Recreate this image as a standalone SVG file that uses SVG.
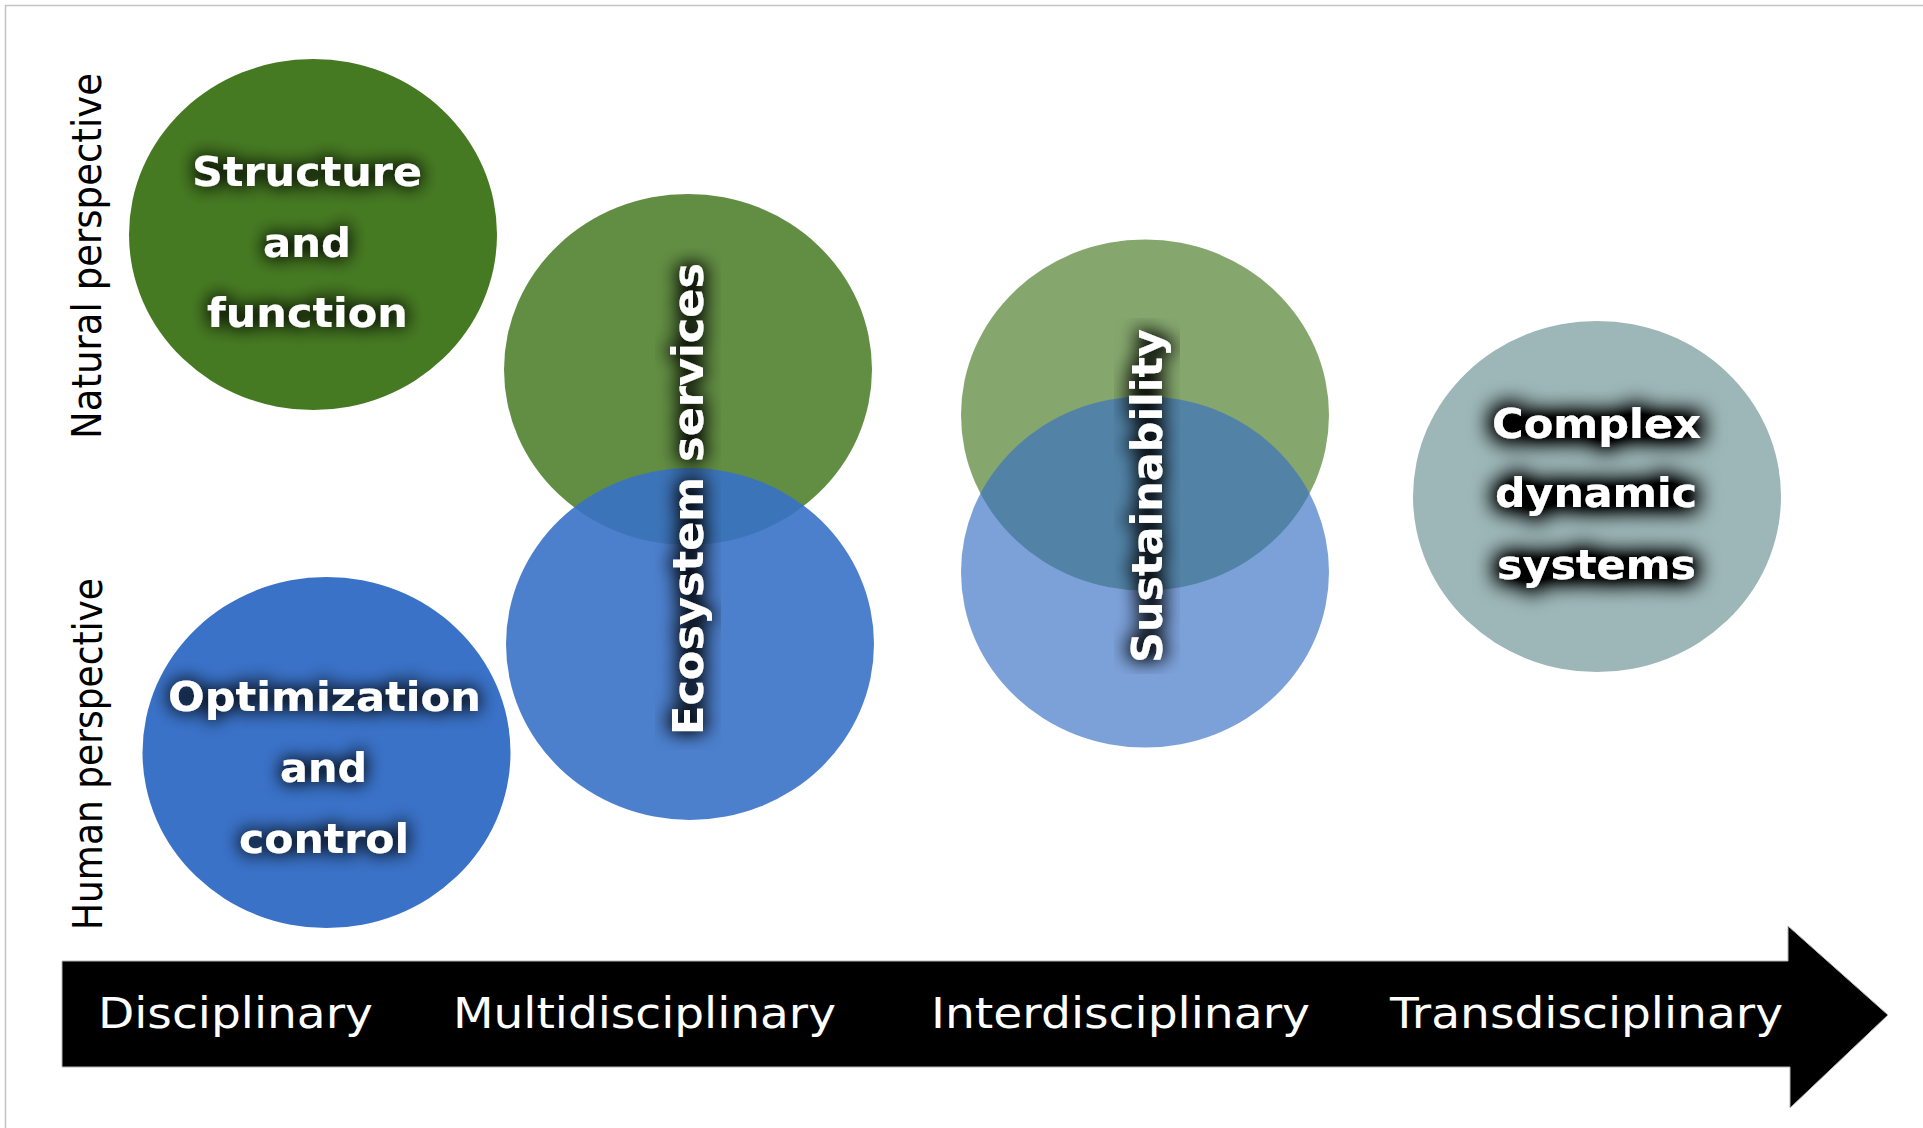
<svg xmlns="http://www.w3.org/2000/svg" width="1923" height="1128" viewBox="0 0 1923 1128">
<style>
  .lbl { font-family: "DejaVu Sans", "Liberation Sans", sans-serif; fill: #ffffff; font-weight: bold; font-size: 40px; text-anchor: middle; }
  .axis-lbl { font-family: "DejaVu Sans", "Liberation Sans", sans-serif; fill: #ffffff; font-size: 42px; }
  .side { font-family: "DejaVu Sans", "Liberation Sans", sans-serif; fill: #000000; font-size: 37px; text-anchor: middle; }
  .green { fill: #467a22; }
  .blue { fill: #3871c6; }
</style>
<defs>
  <filter id="glow" x="-15%" y="-45%" width="130%" height="190%">
    <feMorphology in="SourceAlpha" operator="dilate" radius="1" result="d"/>
    <feGaussianBlur in="d" stdDeviation="9" result="b"/>
    <feComponentTransfer in="b" result="s"><feFuncA type="linear" slope="1.1"/></feComponentTransfer>
    <feMerge><feMergeNode in="s"/><feMergeNode in="SourceGraphic"/></feMerge>
  </filter>
  <filter id="glowDark" x="-15%" y="-45%" width="130%" height="190%">
    <feMorphology in="SourceAlpha" operator="dilate" radius="3" result="d"/>
    <feGaussianBlur in="d" stdDeviation="11" result="b"/>
    <feComponentTransfer in="b" result="s"><feFuncA type="linear" slope="1.6"/></feComponentTransfer>
    <feMerge><feMergeNode in="s"/><feMergeNode in="SourceGraphic"/></feMerge>
  </filter>
  <filter id="glowV" x="-0.03" y="-0.15" width="1.06" height="1.3">
    <feMorphology in="SourceAlpha" operator="dilate" radius="2" result="d"/>
    <feGaussianBlur in="d" stdDeviation="9" result="b"/>
    <feComponentTransfer in="b" result="s"><feFuncA type="linear" slope="1.1"/></feComponentTransfer>
    <feMerge><feMergeNode in="s"/><feMergeNode in="SourceGraphic"/></feMerge>
  </filter>
</defs>
<rect x="0" y="0" width="1923" height="1128" fill="#ffffff"/>
<path d="M5.5,1128 V5.5 H1923" fill="none" stroke="#c4c4c4" stroke-width="1.5"/>

<g id="side-labels">
  <text class="side" transform="translate(101,256) scale(1.08,1) rotate(-90)" textLength="366" lengthAdjust="spacingAndGlyphs">Natural perspective</text>
  <text class="side" transform="translate(102,754) scale(1.08,1) rotate(-90)" textLength="352" lengthAdjust="spacingAndGlyphs">Human perspective</text>
</g>

<g id="structure-function">
  <ellipse class="green" cx="313" cy="234.5" rx="184" ry="175.5"/>
  <g filter="url(#glow)">
    <text class="lbl" x="307" y="186" textLength="230" lengthAdjust="spacingAndGlyphs">Structure</text>
    <text class="lbl" x="307" y="257" textLength="88" lengthAdjust="spacingAndGlyphs">and</text>
    <text class="lbl" x="307.5" y="327" textLength="201" lengthAdjust="spacingAndGlyphs">function</text>
  </g>
</g>

<g id="optimization-control">
  <ellipse cx="326.5" cy="752.5" rx="184" ry="175.5" fill="#3a72c8"/>
  <g filter="url(#glow)">
    <text class="lbl" x="324.5" y="711" textLength="313" lengthAdjust="spacingAndGlyphs">Optimization</text>
    <text class="lbl" x="323.5" y="782" textLength="87" lengthAdjust="spacingAndGlyphs">and</text>
    <text class="lbl" x="324" y="853" textLength="170" lengthAdjust="spacingAndGlyphs">control</text>
  </g>
</g>

<g id="ecosystem-services">
  <ellipse class="green" cx="688" cy="369.5" rx="184" ry="175.5" fill-opacity="0.85"/>
  <ellipse class="blue" cx="690" cy="644" rx="184" ry="176" fill-opacity="0.9"/>
  <text class="lbl" filter="url(#glowV)" transform="translate(703,499) scale(1.075,1) rotate(-90)" textLength="472" lengthAdjust="spacingAndGlyphs">Ecosystem services</text>
</g>

<g id="sustainability">
  <ellipse class="green" cx="1145" cy="415" rx="184" ry="175.5" fill-opacity="0.66"/>
  <ellipse class="blue" cx="1145" cy="572" rx="184" ry="175.5" fill-opacity="0.66"/>
  <text class="lbl" filter="url(#glowV)" transform="translate(1162,496) scale(1.075,1) rotate(-90)" textLength="334" lengthAdjust="spacingAndGlyphs">Sustainability</text>
</g>

<g id="complex-dynamic-systems">
  <ellipse cx="1597" cy="496.5" rx="184" ry="175.5" fill="#9db7b8"/>
  <g filter="url(#glowDark)">
    <text class="lbl" x="1596.5" y="437.5" textLength="209" lengthAdjust="spacingAndGlyphs">Complex</text>
    <text class="lbl" x="1596" y="507" textLength="202" lengthAdjust="spacingAndGlyphs">dynamic</text>
    <text class="lbl" x="1596.5" y="579" textLength="199" lengthAdjust="spacingAndGlyphs">systems</text>
  </g>
</g>

<g id="axis">
  <polygon points="62,961 1788,961 1788,926 1888,1015 1790,1108 1790,1067 62,1067" fill="#000000" stroke="#b4b4b4" stroke-width="1"/>
  <text class="axis-lbl" x="98" y="1028" textLength="275" lengthAdjust="spacingAndGlyphs">Disciplinary</text>
  <text class="axis-lbl" x="453" y="1028" textLength="383" lengthAdjust="spacingAndGlyphs">Multidisciplinary</text>
  <text class="axis-lbl" x="931" y="1028" textLength="379" lengthAdjust="spacingAndGlyphs">Interdisciplinary</text>
  <text class="axis-lbl" x="1390" y="1028" textLength="393" lengthAdjust="spacingAndGlyphs">Transdisciplinary</text>
</g>
</svg>
